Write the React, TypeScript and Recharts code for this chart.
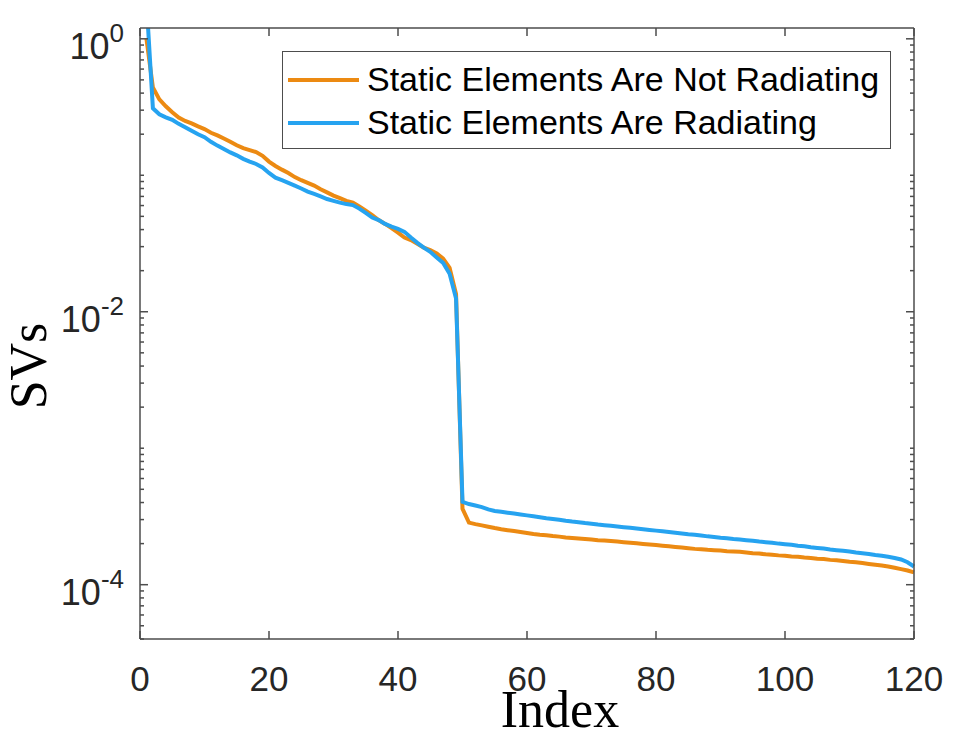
import React from "react";
import { LineChart, Line, XAxis, YAxis, Legend } from "recharts";

const indices = Array.from({ length: 120 }, (_, i) => i + 1);

// static elements are not radiating (orange)
const notRadiating = [
  1.0, 0.44, 0.36, 0.32, 0.29, 0.265, 0.25, 0.24, 0.228, 0.218,
  0.205, 0.196, 0.186, 0.176, 0.166, 0.158, 0.153, 0.148, 0.139, 0.126,
  0.117, 0.11, 0.104, 0.097, 0.092, 0.088, 0.084, 0.079, 0.075, 0.071,
  0.068, 0.065, 0.063, 0.059, 0.055, 0.051, 0.047, 0.044, 0.041, 0.038,
  0.035, 0.0335, 0.0315, 0.0295, 0.0283, 0.0268, 0.0245, 0.021, 0.0135, 3.6e-4,
  2.85e-4, 2.78e-4, 2.72e-4, 2.66e-4, 2.6e-4, 2.55e-4, 2.51e-4, 2.47e-4, 2.43e-4, 2.39e-4,
  2.35e-4, 2.32e-4, 2.3e-4, 2.27e-4, 2.25e-4, 2.22e-4, 2.2e-4, 2.18e-4, 2.16e-4, 2.14e-4,
  2.12e-4, 2.11e-4, 2.09e-4, 2.07e-4, 2.05e-4, 2.03e-4, 2.01e-4, 1.99e-4, 1.97e-4, 1.95e-4,
  1.93e-4, 1.91e-4, 1.89e-4, 1.87e-4, 1.85e-4, 1.83e-4, 1.82e-4, 1.8e-4, 1.79e-4, 1.78e-4,
  1.76e-4, 1.75e-4, 1.74e-4, 1.72e-4, 1.7e-4, 1.69e-4, 1.67e-4, 1.66e-4, 1.64e-4, 1.63e-4,
  1.61e-4, 1.6e-4, 1.58e-4, 1.57e-4, 1.55e-4, 1.54e-4, 1.52e-4, 1.51e-4, 1.49e-4, 1.47e-4,
  1.46e-4, 1.44e-4, 1.42e-4, 1.4e-4, 1.38e-4, 1.36e-4, 1.33e-4, 1.3e-4, 1.27e-4, 1.23e-4,
];

// static elements are radiating (blue)
const radiating = [
  1.9, 0.31, 0.28, 0.266, 0.255, 0.238, 0.225, 0.212, 0.2, 0.19,
  0.176, 0.165, 0.156, 0.147, 0.14, 0.132, 0.126, 0.121, 0.114, 0.104,
  0.096, 0.092, 0.088, 0.084, 0.08, 0.076, 0.073, 0.07, 0.067, 0.065,
  0.063, 0.0615, 0.0605, 0.057, 0.053, 0.049, 0.047, 0.044, 0.042, 0.0405,
  0.0385, 0.035, 0.032, 0.0295, 0.0275, 0.025, 0.0228, 0.019, 0.0125, 4.05e-4,
  3.9e-4, 3.8e-4, 3.7e-4, 3.56e-4, 3.47e-4, 3.42e-4, 3.37e-4, 3.32e-4, 3.27e-4, 3.22e-4,
  3.17e-4, 3.12e-4, 3.07e-4, 3.03e-4, 2.99e-4, 2.94e-4, 2.9e-4, 2.87e-4, 2.83e-4, 2.8e-4,
  2.76e-4, 2.73e-4, 2.7e-4, 2.67e-4, 2.64e-4, 2.61e-4, 2.58e-4, 2.55e-4, 2.52e-4, 2.49e-4,
  2.46e-4, 2.43e-4, 2.4e-4, 2.37e-4, 2.34e-4, 2.32e-4, 2.29e-4, 2.26e-4, 2.24e-4, 2.21e-4,
  2.19e-4, 2.16e-4, 2.14e-4, 2.12e-4, 2.1e-4, 2.07e-4, 2.05e-4, 2.03e-4, 2.0e-4, 1.98e-4,
  1.96e-4, 1.93e-4, 1.91e-4, 1.88e-4, 1.86e-4, 1.84e-4, 1.81e-4, 1.79e-4, 1.77e-4, 1.75e-4,
  1.72e-4, 1.7e-4, 1.68e-4, 1.65e-4, 1.63e-4, 1.6e-4, 1.57e-4, 1.53e-4, 1.46e-4, 1.36e-4,
];

const xTicks = [0, 20, 40, 60, 80, 100, 120];
const yMajor = [1e-4, 1e-2, 1];
const yMajorLabels = ["-4", "-2", "0"];
const yDomain = [4e-5, 1.2];

const seriesNames = ["Static Elements Are Not Radiating", "Static Elements Are Radiating"];
const COLORS = ["#EC8A12", "#26A3F0"];

// log minor ticks: 2..9 x each decade inside the domain (decades 1e-3, 1e-1 unlabeled)
const yMinor = [1e-5, 1e-4, 1e-3, 1e-2, 1e-1]
  .flatMap((d) => [1, 2, 3, 4, 5, 6, 7, 8, 9].map((m) => m * d))
  .filter((v) => v >= yDomain[0] && v <= yDomain[1] && !yMajor.includes(v));
const yTicks = [...yMajor, ...yMinor].sort((a, b) => a - b);

const data = indices.map((idx, i) => ({
  idx,
  notRad: notRadiating[i],
  rad: radiating[i],
}));

const AXIS = "#4d4d4d";
const TEXT = "#262626";
const SANS = "'Liberation Sans', Arial, sans-serif";
const SERIF = "'Liberation Serif', 'Times New Roman', serif";

function BottomTick({ x, y, payload }: any) {
  return (
    <g>
      <line x1={x} y1={y} x2={x} y2={y - 8} stroke={AXIS} strokeWidth={1.5} />
      <text x={x} y={y + 52} textAnchor="middle" fontSize={35} fontFamily={SANS} fill={TEXT}>
        {payload.value}
      </text>
    </g>
  );
}

function TopTick({ x, y }: any) {
  return <line x1={x} y1={y} x2={x} y2={y + 8} stroke={AXIS} strokeWidth={1.5} />;
}

function LeftTick({ x, y, payload }: any) {
  const k = yMajor.indexOf(payload.value);
  const len = k >= 0 ? 8 : 4;
  return (
    <g>
      <line x1={x} y1={y} x2={x + len} y2={y} stroke={AXIS} strokeWidth={1.5} />
      {k >= 0 && (
        <text x={x - 16} y={y + 20} textAnchor="end" fontSize={36} fontFamily={SANS} fill={TEXT}>
          <tspan>10</tspan>
          <tspan dy={-17} fontSize={26}>
            {yMajorLabels[k]}
          </tspan>
        </text>
      )}
    </g>
  );
}

function RightTick({ x, y, payload }: any) {
  const len = yMajor.includes(payload.value) ? 8 : 4;
  return <line x1={x} y1={y} x2={x - len} y2={y} stroke={AXIS} strokeWidth={1.5} />;
}

function LegendBox() {
  return (
    <div
      style={{
        boxSizing: "border-box",
        width: 609,
        height: 98,
        border: `1.5px solid ${AXIS}`,
        background: "#fff",
        fontFamily: SANS,
        fontSize: 34,
        color: "#000",
        paddingTop: 6,
      }}
    >
      {seriesNames.map((name, i) => (
        <div key={name} style={{ display: "flex", alignItems: "center", height: 43 }}>
          <div style={{ width: 71, height: 4, marginLeft: 5, marginRight: 8, background: COLORS[i] }} />
          <span style={{ whiteSpace: "nowrap" }}>{name}</span>
        </div>
      ))}
    </div>
  );
}

export default function App() {
  return (
    <div style={{ width: 957, height: 740, position: "relative", background: "#fff" }}>
      <style>{"body{margin:0}"}</style>
      <LineChart width={957} height={740} data={data} margin={{ top: 27, right: 42, left: 0, bottom: 0 }}>
        <XAxis
          dataKey="idx"
          type="number"
          domain={[0, 120]}
          ticks={xTicks}
          interval={0}
          height={101}
          tickSize={0}
          tickMargin={0}
          tickLine={false}
          axisLine={{ stroke: AXIS, strokeWidth: 1.5 }}
          tick={<BottomTick />}
          label={{
            content: () => (
              <text x={560} y={727} textAnchor="middle" fontSize={52} fontFamily={SERIF} fill="#000">
                Index
              </text>
            ),
          }}
        />
        <XAxis
          xAxisId="top"
          dataKey="idx"
          type="number"
          orientation="top"
          domain={[0, 120]}
          ticks={xTicks}
          interval={0}
          height={1}
          tickSize={0}
          tickMargin={0}
          tickLine={false}
          axisLine={{ stroke: AXIS, strokeWidth: 1.5 }}
          tick={<TopTick />}
        />
        <YAxis
          yAxisId="left"
          type="number"
          scale="log"
          domain={yDomain}
          allowDataOverflow
          ticks={yTicks}
          interval={0}
          width={140}
          tickSize={0}
          tickMargin={0}
          tickLine={false}
          axisLine={{ stroke: AXIS, strokeWidth: 1.5 }}
          tick={<LeftTick />}
          label={{
            content: () => (
              <text
                x={46}
                y={366}
                transform="rotate(-90 46 366)"
                textAnchor="middle"
                fontSize={52}
                fontFamily={SERIF}
                fill="#000"
              >
                SVs
              </text>
            ),
          }}
        />
        <YAxis
          yAxisId="right"
          orientation="right"
          type="number"
          scale="log"
          domain={yDomain}
          allowDataOverflow
          ticks={yTicks}
          interval={0}
          width={1}
          tickSize={0}
          tickMargin={0}
          tickLine={false}
          axisLine={{ stroke: AXIS, strokeWidth: 1.5 }}
          tick={<RightTick />}
        />
        <Legend
          layout="horizontal"
          verticalAlign="middle"
          align="center"
          wrapperStyle={{ left: 282, top: 51, width: 609, height: 98 }}
          content={() => <LegendBox />}
        />
        <Line
          yAxisId="left"
          type="linear"
          dataKey="notRad"
          name={seriesNames[0]}
          stroke={COLORS[0]}
          strokeWidth={4}
          dot={false}
          isAnimationActive={false}
        />
        <Line
          yAxisId="left"
          type="linear"
          dataKey="rad"
          name={seriesNames[1]}
          stroke={COLORS[1]}
          strokeWidth={4}
          dot={false}
          isAnimationActive={false}
        />
      </LineChart>
    </div>
  );
}
